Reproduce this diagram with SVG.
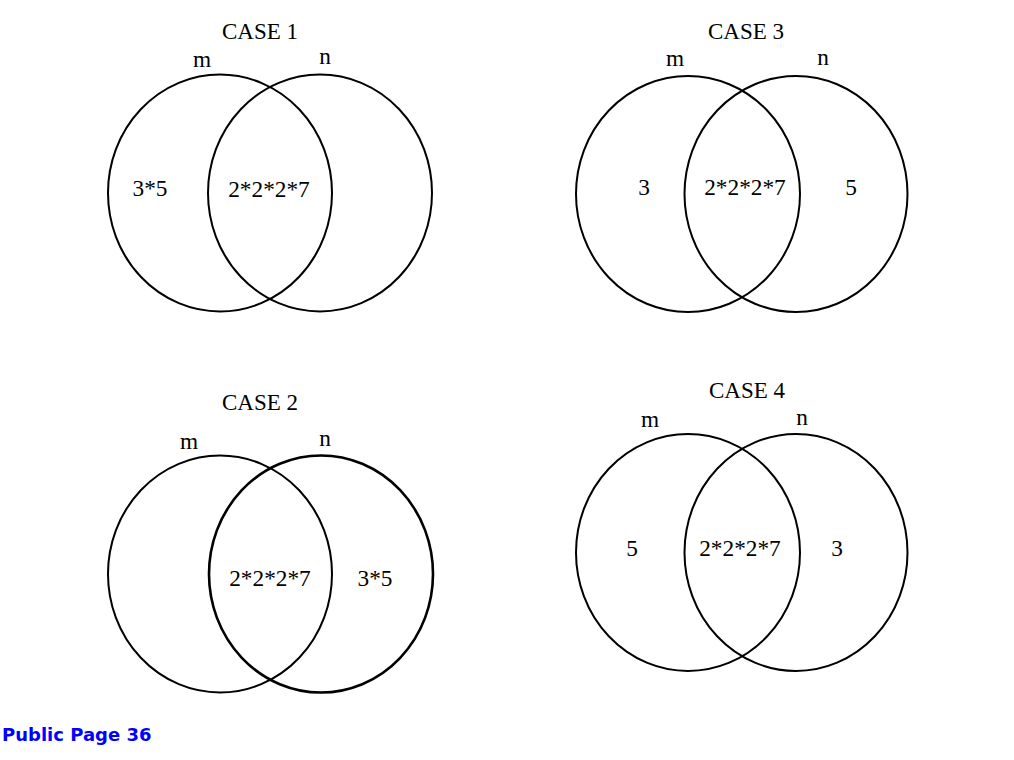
<svg xmlns="http://www.w3.org/2000/svg" width="1014" height="760" viewBox="0 0 1014 760">
<style>
.c{fill:none;stroke:#000;stroke-width:2}
.t{font-family:"Liberation Serif","Times New Roman",serif;font-size:23.3px;fill:#000;text-anchor:middle}
.h{font-family:"Liberation Serif","Times New Roman",serif;font-size:23px;fill:#000;text-anchor:middle}
.f{font-family:"DejaVu Sans",sans-serif;font-weight:bold;font-size:18px;fill:#0000ff}
</style>
<rect width="1014" height="760" fill="#fff"/>
<g id="case1">
<text class="h" x="260" y="39">CASE 1</text>
<ellipse class="c" cx="220" cy="193" rx="112" ry="118.5"/>
<ellipse class="c" cx="320" cy="193" rx="112" ry="118.5"/>
<text class="t" x="202" y="67">m</text>
<text class="t" x="325" y="64">n</text>
<text class="t" x="150" y="196">3*5</text>
<text class="t" x="269" y="197">2*2*2*7</text>
</g>
<g id="case3">
<text class="h" x="746" y="39">CASE 3</text>
<ellipse class="c" cx="688" cy="194" rx="112" ry="118"/>
<ellipse class="c" cx="796" cy="194" rx="111.5" ry="118"/>
<text class="t" x="675" y="66">m</text>
<text class="t" x="823" y="65">n</text>
<text class="t" x="644" y="195">3</text>
<text class="t" x="745" y="195">2*2*2*7</text>
<text class="t" x="851" y="195">5</text>
</g>
<g id="case2">
<text class="h" x="260" y="410">CASE 2</text>
<ellipse class="c" cx="220" cy="574" rx="112" ry="118.5"/>
<ellipse class="c" cx="321" cy="574" rx="112" ry="118.5" style="stroke-width:2.6"/>
<text class="t" x="189" y="449">m</text>
<text class="t" x="325" y="446">n</text>
<text class="t" x="270" y="586">2*2*2*7</text>
<text class="t" x="375" y="586">3*5</text>
</g>
<g id="case4">
<text class="h" x="747" y="398">CASE 4</text>
<ellipse class="c" cx="688" cy="552.5" rx="112" ry="118.5"/>
<ellipse class="c" cx="796" cy="552.5" rx="111.5" ry="118.5"/>
<text class="t" x="650" y="427">m</text>
<text class="t" x="802" y="425">n</text>
<text class="t" x="632" y="556">5</text>
<text class="t" x="740" y="556">2*2*2*7</text>
<text class="t" x="837" y="556">3</text>
</g>
<text class="f" x="2" y="741">Public Page 36</text>
</svg>
